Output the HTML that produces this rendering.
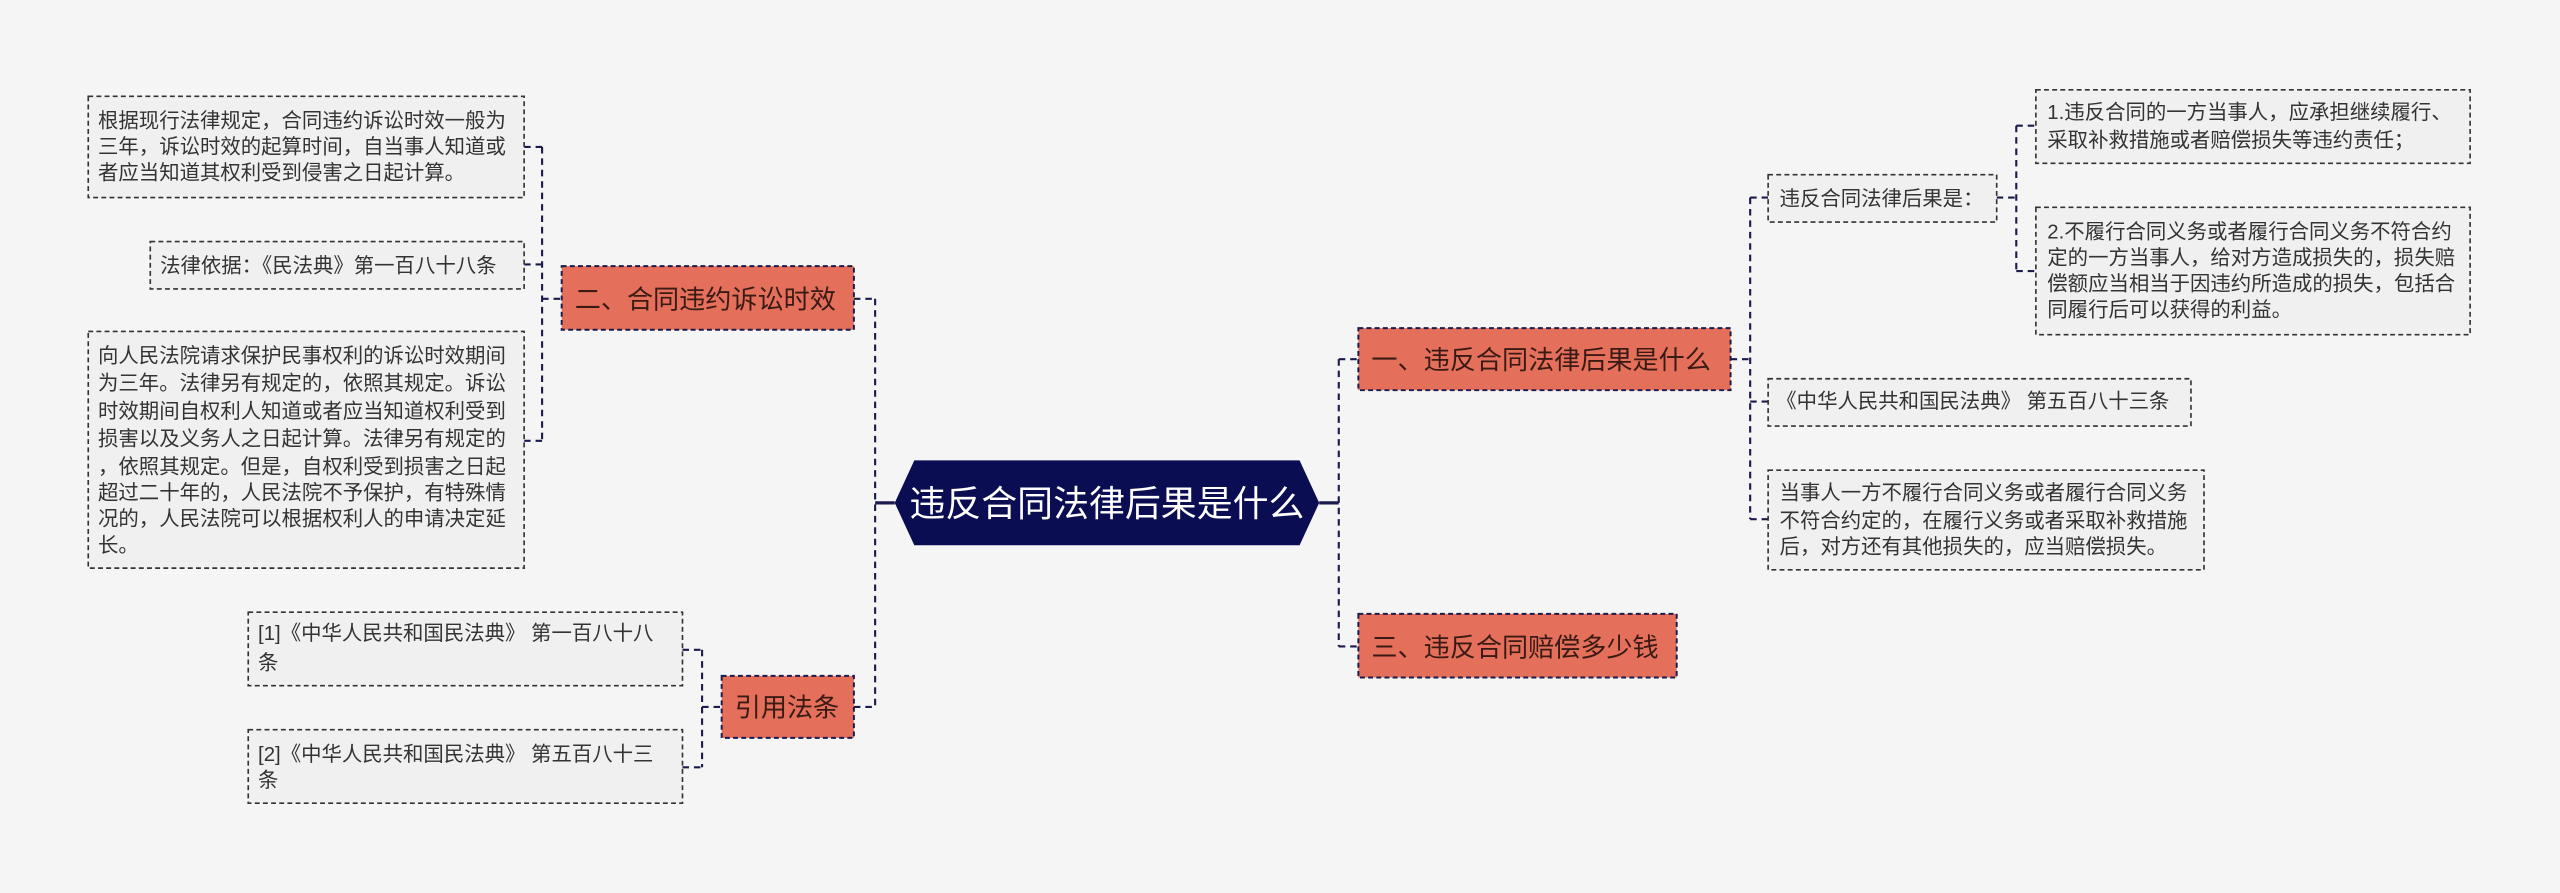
<!DOCTYPE html>
<html><head><meta charset="utf-8"><style>
html,body{margin:0;padding:0;background:#f5f5f5;}
svg{display:block;}
text{font-family:"Liberation Sans","Noto Sans CJK SC",sans-serif;}
.leaf{fill:#f0f0f0;stroke:#333;stroke-width:1;stroke-dasharray:3 2;}
.br{fill:#e46f5a;stroke:#1b1b4d;stroke-width:1.2;stroke-dasharray:3 2;}
.ln{fill:none;stroke:#1b1b4d;stroke-width:1.3;stroke-dasharray:4 3;}
.lt{font-size:12.5px;fill:#333;}
.bt{font-size:16px;fill:#3a1a14;}
</style></head><body>
<svg width="2560" height="893" viewBox="0 0 1568 547" xmlns="http://www.w3.org/2000/svg">
<rect width="1568" height="547" fill="#f5f5f5"/>
<!-- connectors -->
<path class="ln" d="M536 183 V433 M523 183 H536 M523 433 H536"/>
<path d="M548 308 H536" stroke="#1b1b4d" stroke-width="2"/>
<path class="ln" d="M820 220 V396 M820 220 H832 M820 396 H832"/>
<path d="M808 308 H820" stroke="#1b1b4d" stroke-width="2"/>
<path class="ln" d="M332 90 V270 M332 183 H344 M321 90 H332 M321 162 H332 M321 270 H332"/>
<path class="ln" d="M430 398 V470 M430 433 H442 M418 398 H430 M418 470 H430"/>
<path class="ln" d="M1072 121 V318 M1060 220 H1072 M1072 121 H1083 M1072 246 H1083 M1072 318 H1083"/>
<path class="ln" d="M1235 77 V166 M1223 121 H1235 M1235 77 H1247 M1235 166 H1247"/>
<!-- center -->
<polygon points="560,282 796,282 808,308 796,334 560,334 548,308" fill="#0a0d52"/>
<text x="678" y="316" font-size="22" fill="#fff" text-anchor="middle">违反合同法律后果是什么</text>
<!-- branches -->
<rect class="br" x="344" y="163" width="179" height="39"/>
<text class="bt" x="352" y="189">二、合同违约诉讼时效</text>
<rect class="br" x="442" y="414" width="81" height="38"/>
<text class="bt" x="450" y="439">引用法条</text>
<rect class="br" x="832" y="201" width="228" height="38"/>
<text class="bt" x="840" y="226">一、违反合同法律后果是什么</text>
<rect class="br" x="832" y="376" width="195" height="39"/>
<text class="bt" x="840" y="402">三、违反合同赔偿多少钱</text>
<!-- left leaves -->
<rect class="leaf" x="54" y="59" width="267" height="62"/>
<text class="lt" x="60" y="78">根据现行法律规定，合同违约诉讼时效一般为</text>
<text class="lt" x="60" y="94">三年，诉讼时效的起算时间，自当事人知道或</text>
<text class="lt" x="60" y="110">者应当知道其权利受到侵害之日起计算。</text>
<rect class="leaf" x="92" y="148" width="229" height="29"/>
<text class="lt" x="98" y="167">法律依据：《民法典》第一百八十八条</text>
<rect class="leaf" x="54" y="203" width="267" height="145"/>
<text class="lt" x="60" y="222">向人民法院请求保护民事权利的诉讼时效期间</text>
<text class="lt" x="60" y="239">为三年。法律另有规定的，依照其规定。诉讼</text>
<text class="lt" x="60" y="256">时效期间自权利人知道或者应当知道权利受到</text>
<text class="lt" x="60" y="273">损害以及义务人之日起计算。法律另有规定的</text>
<text class="lt" x="60" y="290">，依照其规定。但是，自权利受到损害之日起</text>
<text class="lt" x="60" y="306">超过二十年的，人民法院不予保护，有特殊情</text>
<text class="lt" x="60" y="322">况的，人民法院可以根据权利人的申请决定延</text>
<text class="lt" x="60" y="338">长。</text>
<rect class="leaf" x="152" y="375" width="266" height="45"/>
<text class="lt" x="158" y="392">[1]《中华人民共和国民法典》 第一百八十八</text>
<text class="lt" x="158" y="410">条</text>
<rect class="leaf" x="152" y="447" width="266" height="45"/>
<text class="lt" x="158" y="466">[2]《中华人民共和国民法典》 第五百八十三</text>
<text class="lt" x="158" y="482">条</text>
<!-- right leaves -->
<rect class="leaf" x="1083" y="107" width="140" height="29"/>
<text class="lt" x="1090" y="126">违反合同法律后果是：</text>
<rect class="leaf" x="1247" y="55" width="266" height="45"/>
<text class="lt" x="1254" y="73">1.违反合同的一方当事人，应承担继续履行、</text>
<text class="lt" x="1254" y="90">采取补救措施或者赔偿损失等违约责任；</text>
<rect class="leaf" x="1247" y="127" width="266" height="78"/>
<text class="lt" x="1254" y="146">2.不履行合同义务或者履行合同义务不符合约</text>
<text class="lt" x="1254" y="162">定的一方当事人，给对方造成损失的，损失赔</text>
<text class="lt" x="1254" y="178">偿额应当相当于因违约所造成的损失，包括合</text>
<text class="lt" x="1254" y="194">同履行后可以获得的利益。</text>
<rect class="leaf" x="1083" y="232" width="259" height="29"/>
<text class="lt" x="1088" y="250">《中华人民共和国民法典》 第五百八十三条</text>
<rect class="leaf" x="1083" y="288" width="267" height="61"/>
<text class="lt" x="1090" y="306">当事人一方不履行合同义务或者履行合同义务</text>
<text class="lt" x="1090" y="323">不符合约定的，在履行义务或者采取补救措施</text>
<text class="lt" x="1090" y="339">后，对方还有其他损失的，应当赔偿损失。</text>
</svg>
</body></html>
